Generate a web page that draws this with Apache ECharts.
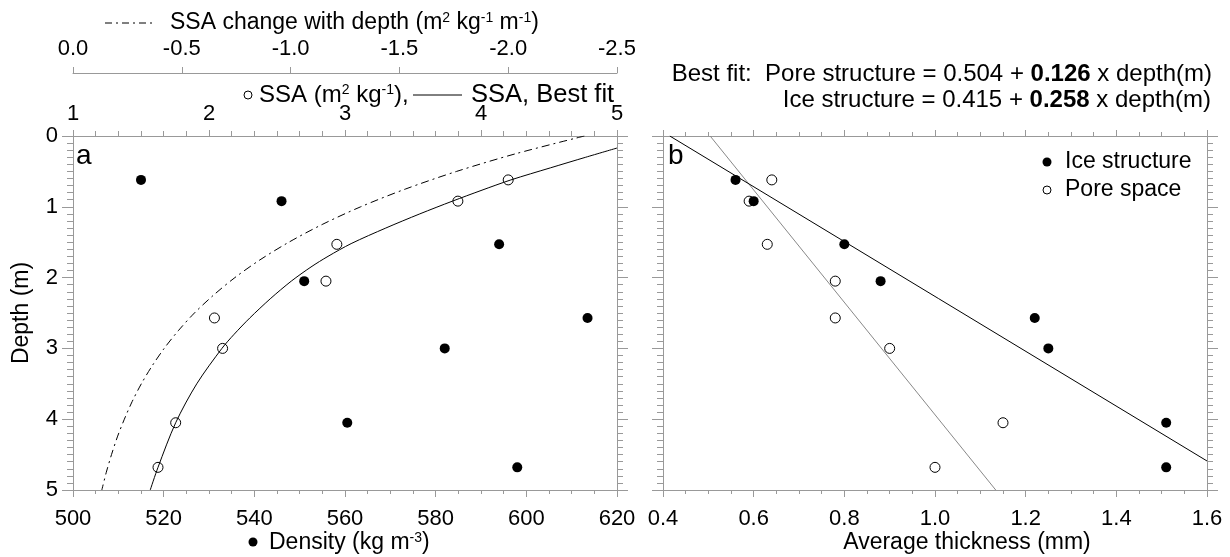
<!DOCTYPE html>
<html>
<head>
<meta charset="utf-8">
<script src="https://cdn.jsdelivr.net/npm/echarts@6/dist/echarts.min.js"></script>
<style>html,body{margin:0;padding:0;background:#fff}#c{width:1230px;height:557px}</style>
</head>
<body>
<div id="c"></div>
<script>
// ---- data ----
const depths      = [0.62, 0.92, 1.53, 2.05, 2.57, 3.00, 4.05, 4.68];
const density     = [515, 546, 594, 551, 613.5, 582, 560.5, 598];
const ssa         = [4.20, 3.83, 2.94, 2.86, 2.04, 2.10, 1.755, 1.625];
const iceThick    = [0.56, 0.60, 0.80, 0.88, 1.22, 1.25, 1.51, 1.51];
const poreThick   = [0.64, 0.59, 0.63, 0.78, 0.78, 0.90, 1.15, 1.00];

const fitDepth    = [0.17, 0.30, 0.45, 0.62, 0.77, 0.92, 1.10, 1.30, 1.52, 1.70, 1.85, 2.05, 2.30, 2.57, 2.80, 3.00, 3.50, 4.05, 4.68, 5.00];
const fitSSA      = [5.00, 4.77, 4.51, 4.22, 4.00, 3.79, 3.55, 3.30, 3.045, 2.875, 2.75, 2.605, 2.45, 2.30, 2.185, 2.095, 1.91, 1.755, 1.625, 1.568];

const rateDepth   = [0, 0.25, 0.5, 0.75, 1.0, 1.25, 1.5, 1.75, 2.0, 2.25, 2.5, 2.75, 3.0, 3.25, 3.5, 3.75, 4.0, 4.25, 4.5, 4.75, 5.0];
const rateSSA     = [-2.35, -2.035, -1.763, -1.527, -1.322, -1.145, -0.992, -0.859, -0.744, -0.645, -0.558, -0.484, -0.419, -0.363, -0.314, -0.272, -0.236, -0.204, -0.177, -0.153, -0.1325];

const iceFitX     = [0.415, 1.6];
const iceFitDepth = [0, 4.59];
const poreFitX    = [0.504, 1.134];
const poreFitDepth= [0, 5.0];

const densityTicks = [500, 620, 20];
const ssaTicks     = [1, 5, 1];
const rateTicks    = [-2.5, 0, 0.5];
const thickTicks   = [0.4, 1.6, 0.2];
const depthTicks   = [0, 5, 1];

// ---- helpers ----
const FF = 'Liberation Sans, Arial, Helvetica, sans-serif';
const AX = '#999';
const pair = (xs, ys) => xs.map((v, i) => [v, ys[i]]);

function xAx(grid, pos, t, opt) {
  return Object.assign({
    type: 'value', gridIndex: grid, position: pos,
    min: t[0], max: t[1], interval: t[2],
    axisLine: {show: true, onZero: false, lineStyle: {color: AX, width: 1}},
    axisTick: {show: true, inside: false, length: 7, lineStyle: {color: AX}},
    minorTick: {show: true, splitNumber: 4, length: 4, lineStyle: {color: AX}},
    splitLine: {show: false}, minorSplitLine: {show: false},
    axisLabel: {show: true, color: '#000', fontSize: 22, fontFamily: FF, margin: 18}
  }, opt || {});
}
function yAx(grid, pos, showLabel) {
  return {
    type: 'value', gridIndex: grid, position: pos, inverse: true,
    min: depthTicks[0], max: depthTicks[1], interval: depthTicks[2],
    axisLine: {show: true, onZero: false, lineStyle: {color: AX, width: 1}},
    axisTick: {show: true, inside: false, length: 11, lineStyle: {color: AX}},
    minorTick: {show: true, splitNumber: 10, length: 6, lineStyle: {color: AX}},
    splitLine: {show: false}, minorSplitLine: {show: false},
    axisLabel: {show: showLabel, color: '#000', fontSize: 22, fontFamily: FF, margin: 15}
  };
}
function txt(x, y, text, size, align, extra) {
  const rich = {
    n: {fontSize: size, fontFamily: FF, fill: '#000'},
    b: {fontSize: size, fontFamily: FF, fill: '#000', fontWeight: 'bold'},
    s: {fontSize: Math.round(size * 0.6), fontFamily: FF, fill: '#000', verticalAlign: 'top'}
  };
  return Object.assign({
    type: 'text', x: x, y: y, silent: true,
    style: {text: text, rich: rich, fontSize: size, fontFamily: FF, fill: '#000',
            textAlign: align || 'left', align: align || 'left',
            verticalAlign: 'middle', textVerticalAlign: 'middle'}
  }, extra || {});
}
const openSym = {color: '#fff', borderColor: '#000', borderWidth: 1, opacity: 1};
const fillSym = {color: '#000', opacity: 1};

const chart = echarts.init(document.getElementById('c'), null, {renderer: 'canvas'});
chart.setOption({
  animation: false,
  backgroundColor: '#fff',
  grid: [
    {left: 73, top: 136, width: 544, height: 354},
    {left: 663, top: 136, width: 544, height: 354}
  ],
  xAxis: [
    xAx(0, 'bottom', densityTicks),
    xAx(0, 'top', ssaTicks, {
      minorTick: {show: true, splitNumber: 6, length: 5, lineStyle: {color: AX}},
      axisTick: {show: true, length: 6, lineStyle: {color: AX}},
      axisLabel: {show: true, color: '#000', fontSize: 22, fontFamily: FF, margin: 11}
    }),
    xAx(0, 'top', rateTicks, {
      offset: 63, inverse: true,
      minorTick: {show: false},
      axisTick: {show: true, length: 6, lineStyle: {color: AX}},
      axisLabel: {show: true, color: '#000', fontSize: 22, fontFamily: FF, margin: 13,
                  formatter: v => (Math.abs(v) < 1e-9 ? 0 : v).toFixed(1)}
    }),
    xAx(1, 'bottom', thickTicks, {
      axisLabel: {show: true, color: '#000', fontSize: 22, fontFamily: FF, margin: 18,
                  formatter: v => v.toFixed(1)}
    }),
    xAx(1, 'top', thickTicks, {
      axisTick: {show: true, length: 6, lineStyle: {color: AX}},
      axisLabel: {show: false}
    })
  ],
  yAxis: [
    yAx(0, 'left', true),
    yAx(0, 'right', false),
    yAx(1, 'left', false),
    yAx(1, 'right', false)
  ],
  series: [
    {type: 'line', xAxisIndex: 2, yAxisIndex: 0, data: pair(rateSSA, rateDepth), smooth: 0.3,
     showSymbol: false, silent: true, lineStyle: {color: '#000', width: 1, type: [8, 4, 2, 4]}},
    {type: 'line', xAxisIndex: 1, yAxisIndex: 0, data: pair(fitSSA, fitDepth), smooth: 0.3,
     showSymbol: false, silent: true, lineStyle: {color: '#000', width: 1}},
    {type: 'scatter', xAxisIndex: 0, yAxisIndex: 0, data: pair(density, depths),
     symbolSize: 10, itemStyle: fillSym, silent: true},
    {type: 'scatter', xAxisIndex: 1, yAxisIndex: 0, data: pair(ssa, depths),
     symbolSize: 10, itemStyle: openSym, silent: true},
    {type: 'line', xAxisIndex: 3, yAxisIndex: 2, data: pair(poreFitX, poreFitDepth),
     showSymbol: false, silent: true, lineStyle: {color: '#888', width: 1}},
    {type: 'line', xAxisIndex: 3, yAxisIndex: 2, data: pair(iceFitX, iceFitDepth),
     showSymbol: false, silent: true, lineStyle: {color: '#000', width: 1}},
    {type: 'scatter', xAxisIndex: 3, yAxisIndex: 2, data: pair(poreThick, depths),
     symbolSize: 10, itemStyle: openSym, silent: true},
    {type: 'scatter', xAxisIndex: 3, yAxisIndex: 2, data: pair(iceThick, depths),
     symbolSize: 10, itemStyle: fillSym, silent: true}
  ],
  graphic: [
    {type: 'line', silent: true, shape: {x1: 105, y1: 23, x2: 155, y2: 23},
     style: {stroke: '#000', lineWidth: 1, lineDash: [7, 4, 2, 4]}},
    txt(170, 23, '{n|SSA change with depth (m}{s|2}{n| kg}{s|-1}{n| m}{s|-1}{n|)}', 23),
    {type: 'circle', silent: true, shape: {cx: 248, cy: 95, r: 4},
     style: {fill: '#fff', stroke: '#000', lineWidth: 1}},
    txt(259, 95, '{n|SSA (m}{s|2}{n| kg}{s|-1}{n|),}', 24),
    {type: 'line', silent: true, shape: {x1: 413, y1: 95, x2: 462, y2: 95},
     style: {stroke: '#000', lineWidth: 1}},
    txt(471, 95, '{n|SSA, Best fit}', 25.5),
    txt(1212, 74, '{n|Best fit:  Pore structure = 0.504 + }{b|0.126}{n| x depth(m)}', 24, 'right'),
    txt(1211, 100, '{n|Ice structure = 0.415 + }{b|0.258}{n| x depth(m)}', 24, 'right'),
    txt(76, 156, '{n|a}', 28),
    txt(668, 156, '{n|b}', 28),
    {type: 'circle', silent: true, shape: {cx: 1047, cy: 162, r: 4.5}, style: {fill: '#000'}},
    txt(1065, 162, '{n|Ice structure}', 23),
    {type: 'circle', silent: true, shape: {cx: 1047, cy: 190, r: 4},
     style: {fill: '#fff', stroke: '#000', lineWidth: 1}},
    txt(1065, 190, '{n|Pore space}', 23),
    {type: 'circle', silent: true, shape: {cx: 253, cy: 542, r: 4.5}, style: {fill: '#000'}},
    txt(269, 543, '{n|Density (kg m}{s|-3}{n|)}', 23),
    txt(967, 543, '{n|Average thickness (mm)}', 23, 'center'),
    txt(22, 313, '{n|Depth (m)}', 23, 'center', {rotation: Math.PI / 2})
  ]
});
</script>
</body>
</html>
